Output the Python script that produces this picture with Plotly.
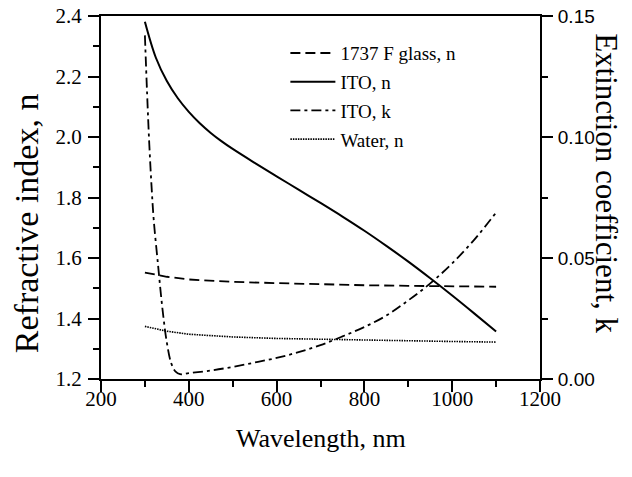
import plotly.graph_objects as go

# ---- data ----
wl_ito_n = [300, 325, 350, 375, 400, 425, 450, 475, 500, 550, 600, 650, 700, 750, 800, 850, 900, 950, 1000, 1050, 1100]
ito_n = [2.381, 2.262, 2.185, 2.128, 2.083, 2.0455, 2.0135, 1.9855, 1.9605, 1.9145, 1.870, 1.826, 1.782, 1.737, 1.690, 1.640, 1.588, 1.533, 1.476, 1.417, 1.357]

wl_ito_k = [300, 305, 310, 315, 320, 330, 340, 350, 360, 370, 380, 400, 450, 500, 550, 600, 650, 700, 750, 800, 850, 900, 950, 1000, 1050, 1100]
ito_k = [0.142, 0.118, 0.097, 0.080, 0.066, 0.047, 0.029, 0.015, 0.0065, 0.003, 0.002, 0.0024, 0.0035, 0.0050, 0.0068, 0.0087, 0.0111, 0.0140, 0.0176, 0.0215, 0.0262, 0.0325, 0.0395, 0.0478, 0.0575, 0.0688]

wl_n = [300, 350, 400, 500, 600, 700, 800, 900, 1000, 1100]
glass_n = [1.552, 1.538, 1.529, 1.521, 1.517, 1.513, 1.510, 1.508, 1.506, 1.505]
water_n = [1.374, 1.358, 1.348, 1.339, 1.334, 1.331, 1.328, 1.326, 1.324, 1.322]

x_ticks = [200, 400, 600, 800, 1000, 1200]

SERIF = "Liberation Serif, Times New Roman, serif"
SANS = "Liberation Sans, Arial, sans-serif"

fig = go.Figure()
fig.add_trace(go.Scatter(x=wl_n, y=glass_n, mode="lines", name="1737 F glass, n",
                         line=dict(color="black", width=1.8, dash="10px,5px"), legendgroup="a"))
fig.add_trace(go.Scatter(x=wl_ito_n, y=ito_n, mode="lines", name="ITO, n",
                         line=dict(color="black", width=2, shape="spline"), legendgroup="b"))
fig.add_trace(go.Scatter(x=wl_ito_k, y=ito_k, mode="lines", name="ITO, k", yaxis="y2",
                         line=dict(color="black", width=1.8, dash="10px,4px,3px,4px", shape="spline"),
                         legendgroup="c"))
fig.add_trace(go.Scatter(x=wl_n, y=water_n, mode="lines", name="Water, n",
                         line=dict(color="black", width=1.6, dash="1.5px,1px"), legendgroup="d"))

tick_common = dict(ticks="outside", ticklen=11, tickwidth=2, tickcolor="black", showline=True,
                   linecolor="black", linewidth=2, showgrid=False, zeroline=False, automargin=False)

fig.update_layout(
    width=632, height=477,
    margin=dict(l=101, r=92, t=16, b=98),
    paper_bgcolor="white", plot_bgcolor="white",
    font=dict(family=SERIF, color="black", size=20),
    showlegend=True,
    legend=dict(x=0.42, y=0.95, xanchor="left", yanchor="top",
                bgcolor="rgba(0,0,0,0)", borderwidth=0, itemwidth=45,
                font=dict(family=SERIF, size=19, color="black"),
                tracegroupgap=1),
    xaxis=dict(range=[200, 1200], tickvals=x_ticks, mirror=True, ticklabelstandoff=-11,
               minor=dict(dtick=100, ticks="outside", ticklen=6, tickwidth=2, tickcolor="black", showgrid=False),
               tickfont=dict(family=SERIF, size=21), **tick_common),
    yaxis=dict(range=[1.2, 2.4], dtick=0.2, tick0=1.2, tickformat=".1f", mirror=True, ticklabelstandoff=2,
               minor=dict(dtick=0.1, ticks="outside", ticklen=6, tickwidth=2, tickcolor="black", showgrid=False),
               tickfont=dict(family=SERIF, size=21), **tick_common),
    yaxis2=dict(range=[0, 0.15], dtick=0.05, tick0=0, tickformat=".2f", overlaying="y", side="right",
                ticklabelstandoff=1,
                minor=dict(dtick=0.025, ticks="outside", ticklen=6, tickwidth=2, tickcolor="black", showgrid=False),
                tickfont=dict(family=SANS, size=19), **tick_common),
    annotations=[
        dict(text="Wavelength, nm", xref="paper", yref="paper", x=0.5, y=-0.163,
             xanchor="center", yanchor="middle", showarrow=False,
             font=dict(family=SERIF, size=26, color="black")),
        dict(text="Refractive index, n", textangle=-90, xref="paper", yref="paper",
             x=-0.168, y=0.43, xanchor="center", yanchor="middle", showarrow=False,
             font=dict(family=SERIF, size=34, color="black")),
        dict(text="Extinction coefficient, k", textangle=90, xref="paper", yref="paper",
             x=1.15, y=0.54, xanchor="center", yanchor="middle", showarrow=False,
             font=dict(family=SERIF, size=31, color="black")),
    ],
)

fig.write_html("out.html", post_script="document.body.style.margin='0';",
               config={"displayModeBar": False})
